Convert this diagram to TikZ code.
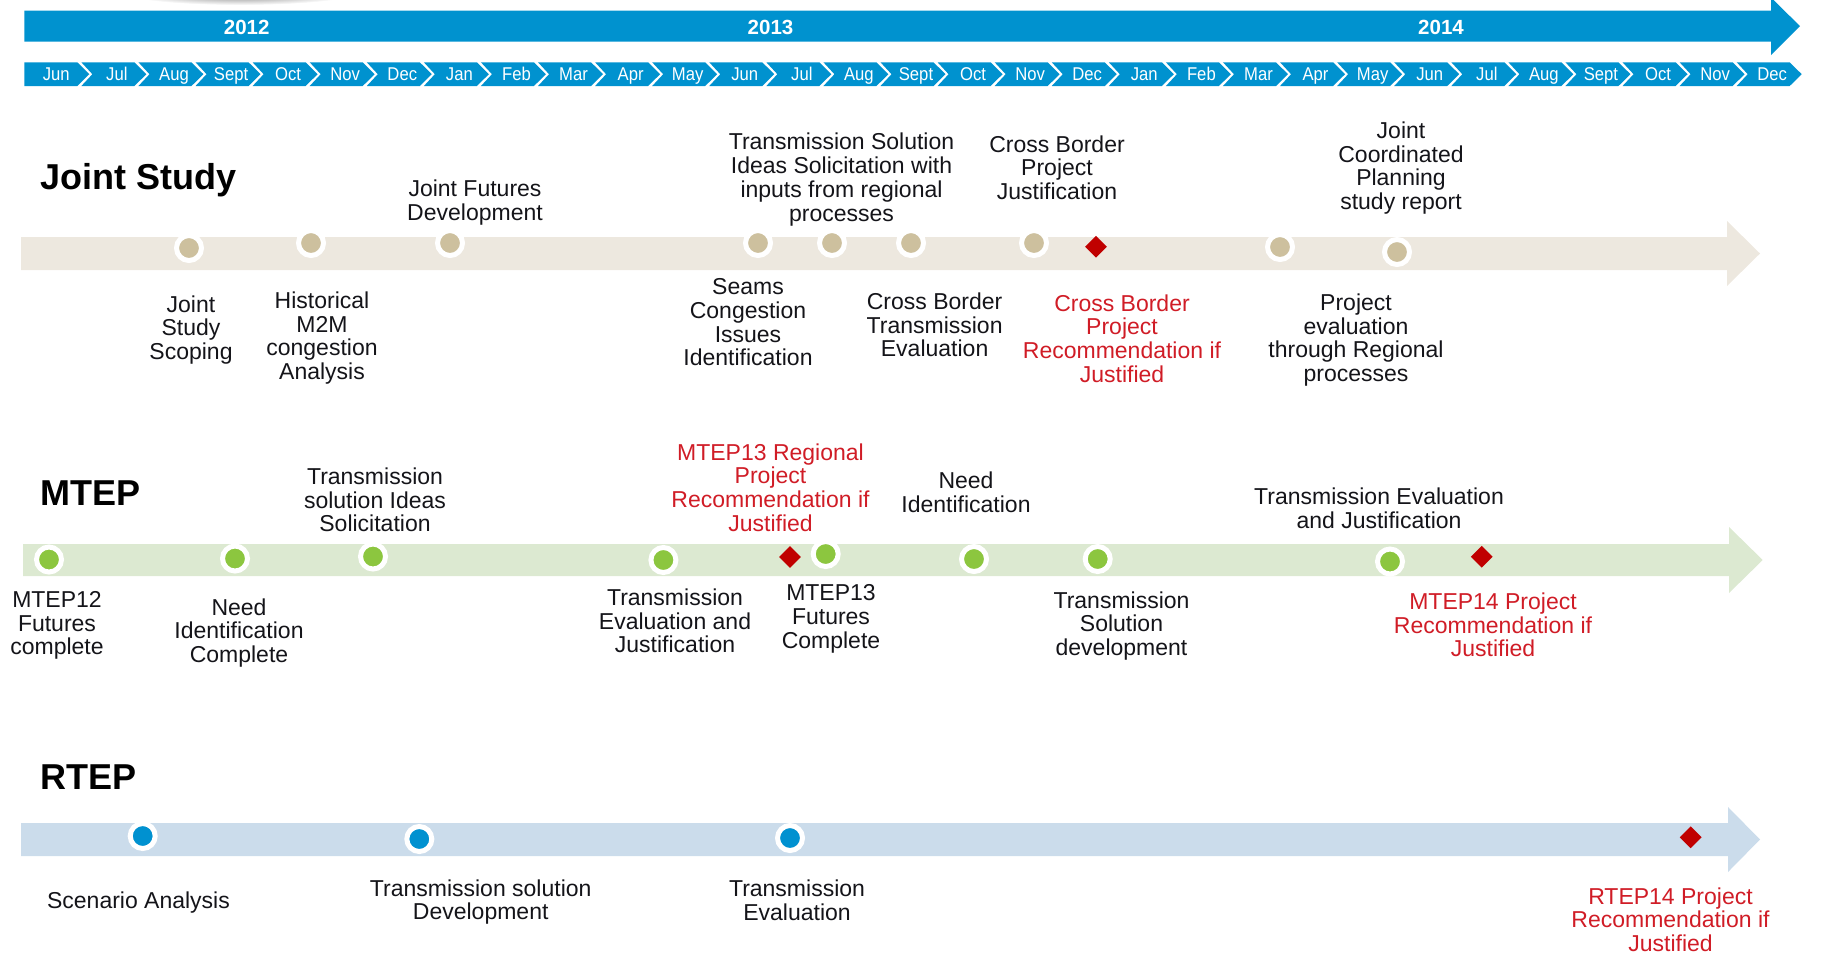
\documentclass[tikz,border=0pt]{standalone}
\usepackage{fontspec}
\setmainfont{Liberation Sans}
\newfontfamily\narrowfont{Liberation Sans}[FakeStretch=0.9]
\usetikzlibrary{shapes.geometric}

\definecolor{barblue}{RGB}{0,146,207}
\definecolor{jointband}{RGB}{237,232,223}
\definecolor{jointdot}{RGB}{205,192,158}
\definecolor{mtepband}{RGB}{220,233,209}
\definecolor{mtepdot}{RGB}{140,198,63}
\definecolor{rtepband}{RGB}{203,220,235}
\definecolor{rtepdot}{RGB}{0,145,208}
\definecolor{diared}{RGB}{192,0,0}
\definecolor{recred}{RGB}{208,28,38}
\definecolor{labelink}{RGB}{20,20,25}

\tikzset{
  lbl/.style={align=center, font=\fontsize{23}{23.7}\selectfont, text=labelink, inner sep=0pt},
  redlbl/.style={lbl, text=recred},
  rowtitle/.style={anchor=west, font=\bfseries\fontsize{36}{40}\selectfont, text=black, inner sep=0pt},
  yearlbl/.style={font=\bfseries\fontsize{20.5}{24}\selectfont, text=white, inner sep=0pt,
    text height=15pt, text depth=0pt},
  monthlbl/.style={font=\narrowfont\fontsize{18.5}{20}\selectfont, text=white, inner sep=0pt,
    text height=13pt, text depth=3.5pt},
  dotbase/.style={circle, draw=white, line width=5pt, minimum size=25pt, inner sep=0pt},
  jdot/.style={dotbase, fill=jointdot},
  mdot/.style={dotbase, fill=mtepdot},
  rdot/.style={dotbase, fill=rtepdot},
  milestone/.style={diamond, fill=diared, minimum width=22pt, minimum height=22pt, inner sep=0pt},
}

\begin{document}
\begin{tikzpicture}[x=1pt,y=-1pt]
\useasboundingbox (0,0) rectangle (1825,959);

% faint shadow at the top edge
\shade[inner color=black!55, outer color=white] (240,-7) ellipse [x radius=115, y radius=12];

% year arrow
\fill[barblue] (24.3,10.7) -- (1771,10.7) -- (1771,-2.6) -- (1800,26.2)
  -- (1771,55) -- (1771,41.7) -- (24.3,41.7) -- cycle;
\node[yearlbl] (yr12) at (246.7,26.5) {2012};
\node[yearlbl] (yr13) at (770.5,26.5) {2013};
\node[yearlbl] (yr14) at (1441,26.5) {2014};

% month chevrons
\foreach \m [count=\i from 0] in {Jun,Jul,Aug,Sept,Oct,Nov,Dec,Jan,Feb,Mar,Apr,May,Jun,Jul,Aug,Sept,Oct,Nov,Dec,Jan,Feb,Mar,Apr,May,Jun,Jul,Aug,Sept,Oct,Nov,Dec} {
  \pgfmathsetmacro\xa{24.3+\i*57.08}
  \ifnum\i=0
    \fill[barblue] (\xa,62.3) -- ({\xa+53},62.3) -- ({\xa+65},74.2) -- ({\xa+53},86) -- (\xa,86) -- cycle;
    \node[monthlbl] (m\i) at ({\xa+32},75.8) {\m};
  \else
    \fill[barblue] (\xa,62.3) -- ({\xa+53},62.3) -- ({\xa+65},74.2) -- ({\xa+53},86) -- (\xa,86) -- ({\xa+11},74.2) -- cycle;
    \node[monthlbl] (m\i) at ({\xa+35.5},75.8) {\m};
  \fi
}

% row bands
\fill[jointband] (21,237) -- (1727,237) -- (1727,221) -- (1760,253.5) -- (1727,286) -- (1727,270) -- (21,270) -- cycle;
\fill[mtepband] (23,544) -- (1729,544) -- (1729,527) -- (1762.7,560) -- (1729,593) -- (1729,576) -- (23,576) -- cycle;
\fill[rtepband] (21,823) -- (1728,823) -- (1728,807) -- (1760,839.5) -- (1728,872) -- (1728,856) -- (21,856) -- cycle;

% row titles
\node[rowtitle] (tjoint) at (40.7,180) {Joint Study};
\node[rowtitle] (tmtep) at (40.7,493) {MTEP};
\node[rowtitle] (trtep) at (40.7,777) {RTEP};

% Joint Study milestones
\node[jdot] (j1) at (189,248) {};
\node[jdot] (j2) at (311,243) {};
\node[jdot] (j3) at (450,243) {};
\node[jdot] (j4) at (758,243) {};
\node[jdot] (j5) at (832,243) {};
\node[jdot] (j6) at (911,243) {};
\node[jdot] (j7) at (1034,243) {};
\node[milestone] (jd) at (1096,246.7) {};
\node[jdot] (j8) at (1280,247) {};
\node[jdot] (j9) at (1397,252) {};

\node[lbl] (jfut) at (475,202.7) {Joint Futures\\Development};
\node[lbl] (tsol) at (841.5,179.5) {Transmission Solution\\Ideas Solicitation with\\inputs from regional\\processes};
\node[lbl] (cbpj) at (1057,167.5) {Cross Border\\Project\\Justification};
\node[lbl] (jcp) at (1401,168) {Joint\\Coordinated\\Planning\\study report};
\node[lbl] (jss) at (191,330) {Joint\\Study\\Scoping};
\node[lbl] (hist) at (322,338) {Historical\\M2M\\congestion\\Analysis};
\node[lbl] (seams) at (748,322.5) {Seams\\Congestion\\Issues\\Identification};
\node[lbl] (cbte) at (934.6,325) {Cross Border\\Transmission\\Evaluation};
\node[redlbl] (cbpr) at (1122,338.5) {Cross Border\\Project\\Recommendation if\\Justified};
\node[lbl] (peval) at (1356,340) {Project\\evaluation\\through Regional\\processes};

% MTEP milestones
\node[mdot] (mt1) at (49,559.5) {};
\node[mdot] (mt2) at (235,558.5) {};
\node[mdot] (mt3) at (373,556.5) {};
\node[mdot] (mt4) at (663.4,560) {};
\node[milestone] (mtd1) at (790,557) {};
\node[mdot] (mt5) at (825.7,554) {};
\node[mdot] (mt6) at (974,559) {};
\node[mdot] (mt7) at (1097.7,559) {};
\node[mdot] (mt8) at (1390,561.5) {};
\node[milestone] (mtd2) at (1481.7,556.7) {};

\node[lbl] (tsis) at (375,500) {Transmission\\solution Ideas\\Solicitation};
\node[redlbl] (m13r) at (770.5,487.5) {MTEP13 Regional\\Project\\Recommendation if\\Justified};
\node[lbl] (nid) at (966,492.5) {Need\\Identification};
\node[lbl] (tej) at (1379,508.5) {Transmission Evaluation\\and Justification};
\node[lbl] (m12f) at (57,625.5) {MTEP12\\Futures\\complete};
\node[lbl] (nidc) at (239,633) {Need\\Identification\\Complete};
\node[lbl] (teaj) at (675,620.8) {Transmission\\Evaluation and\\Justification};
\node[lbl] (m13f) at (831,619) {MTEP13\\Futures\\Complete};
\node[lbl] (tsd) at (1121.5,626) {Transmission\\Solution\\development};
\node[redlbl] (m14) at (1493,625) {MTEP14 Project\\Recommendation if\\Justified};

% RTEP milestones
\node[rdot] (rt1) at (142.7,836) {};
\node[rdot] (rt2) at (419.3,839) {};
\node[rdot] (rt3) at (790,838) {};
\node[milestone] (rtd) at (1690.7,837.3) {};

\node[lbl] (scen) at (138.5,902.5) {Scenario Analysis};
\node[lbl] (tsdv) at (480.7,902) {Transmission solution\\Development};
\node[lbl] (tev) at (797,900.5) {Transmission\\Evaluation};
\node[redlbl] (r14) at (1670.5,919.5) {RTEP14 Project\\Recommendation if\\Justified};
\end{tikzpicture}
\end{document}
